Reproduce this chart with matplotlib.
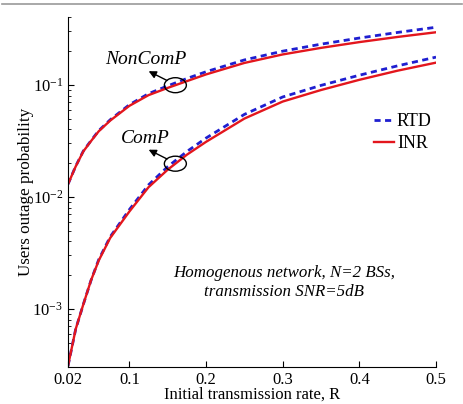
import numpy as np
import matplotlib
matplotlib.use("Agg")
import matplotlib.pyplot as plt
from matplotlib.patches import Ellipse
from matplotlib.lines import Line2D
from matplotlib.transforms import ScaledTranslation

plt.rcParams["font.family"] = ["Liberation Serif", "DejaVu Serif"]
plt.rcParams["mathtext.fontset"] = "custom"
plt.rcParams["mathtext.rm"] = "Liberation Serif"
plt.rcParams["mathtext.it"] = "Liberation Serif:italic"

# initial transmission rate R
rate = [0.02, 0.03, 0.04, 0.05, 0.06, 0.075, 0.1, 0.125, 0.15, 0.175,
        0.2, 0.25, 0.3, 0.35, 0.4, 0.45, 0.5]

# outage probability, non-cooperative
noncomp_inr = [0.0130, 0.0187, 0.0255, 0.0315, 0.0385, 0.048, 0.065, 0.081,
               0.094, 0.108, 0.124, 0.157, 0.187, 0.214, 0.241, 0.268, 0.295]
noncomp_rtd = [0.0130, 0.0188, 0.0257, 0.0318, 0.0390, 0.0488, 0.0665, 0.0835,
               0.098, 0.114, 0.131, 0.167, 0.200, 0.231, 0.262, 0.294, 0.327]

# outage probability, cooperative (ComP)
comp_inr = [3.1e-4, 6.6e-4, 1.1e-3, 1.8e-3, 2.7e-3, 4.3e-3, 7.4e-3, 0.0122,
            0.0175, 0.0238, 0.031, 0.050, 0.071, 0.090, 0.111, 0.134, 0.158]
comp_rtd = [3.1e-4, 6.6e-4, 1.1e-3, 1.8e-3, 2.75e-3, 4.4e-3, 7.7e-3, 0.0128,
            0.0186, 0.0254, 0.0335, 0.0545, 0.078, 0.099, 0.122, 0.148, 0.177]

xticks = [0.02, 0.1, 0.2, 0.3, 0.4, 0.5]
xticklabels = ["0.02", "0.1", "0.2", "0.3", "0.4", "0.5"]

blue = "#1f1fd0"
red = "#e3161d"

fig = plt.figure(figsize=(4.64, 4.04), dpi=100)
ax = fig.add_axes([0.1466, 0.0916, 0.7931, 0.8664])

ax.plot(rate, noncomp_rtd, "--", color=blue, lw=2.0, dashes=(2.2, 1.6), label="RTD")
ax.plot(rate, noncomp_inr, "-", color=red, lw=1.7, label="INR")
ax.plot(rate, comp_rtd, "--", color=blue, lw=2.0, dashes=(2.2, 1.6))
ax.plot(rate, comp_inr, "-", color=red, lw=1.7)

ax.set_yscale("log")
ax.set_xlim(0.02, 0.5)
ax.set_ylim(3.03e-4, 0.404)
ax.set_xticks(xticks)
ax.set_xticklabels(xticklabels)

ax.spines["top"].set_visible(False)
ax.spines["right"].set_visible(False)
ax.tick_params(which="both", direction="in", labelsize=12)
ax.tick_params(which="major", length=4)
ax.tick_params(which="minor", length=2.5)
ax.tick_params(axis="x", pad=3.5)

ax.set_xlabel("Initial transmission rate, R", fontsize=12, labelpad=-1)
ax.set_ylabel("Users outage probability", fontsize=12.3, labelpad=-1)

# ellipse + arrow marking each curve group, sized in inches around (mark_x, y)
mark_x = 0.16
for ys, name in [(noncomp_inr, "NonComP"), (comp_inr, "ComP")]:
    yc = 10 ** np.interp(mark_x, rate, np.log10(ys))
    tr = fig.dpi_scale_trans + ScaledTranslation(mark_x, yc, ax.transData)
    ax.add_patch(Ellipse((0, 0), 0.22, 0.15, transform=tr, fill=False,
                         ec="black", lw=1.0, zorder=5))
    ax.annotate("", xy=(-0.267, 0.14), xycoords=tr,
                xytext=(-0.083, 0.047), textcoords=tr,
                arrowprops=dict(arrowstyle="-|>", color="black", lw=1.0,
                                mutation_scale=11, shrinkA=0, shrinkB=0))
    ax.text(-0.30, 0.255, name, transform=tr, fontsize=14, style="italic",
            ha="center", va="center")

ax.text(0.587, 0.241, "Homogenous network, N=2 BSs,\ntransmission SNR=5dB",
        transform=ax.transAxes, fontsize=12.2, style="italic",
        ha="center", va="center", linespacing=1.2)

ax.legend(loc="upper left", bbox_to_anchor=(0.813, 0.745), frameon=False,
          fontsize=13, handlelength=1.1, handletextpad=0.15,
          labelspacing=0.25, borderaxespad=0)

fig.add_artist(Line2D([0.004, 0.996], [0.99, 0.99], color="#9a9a9a", lw=1.2))

fig.savefig("out.png", dpi=100)
